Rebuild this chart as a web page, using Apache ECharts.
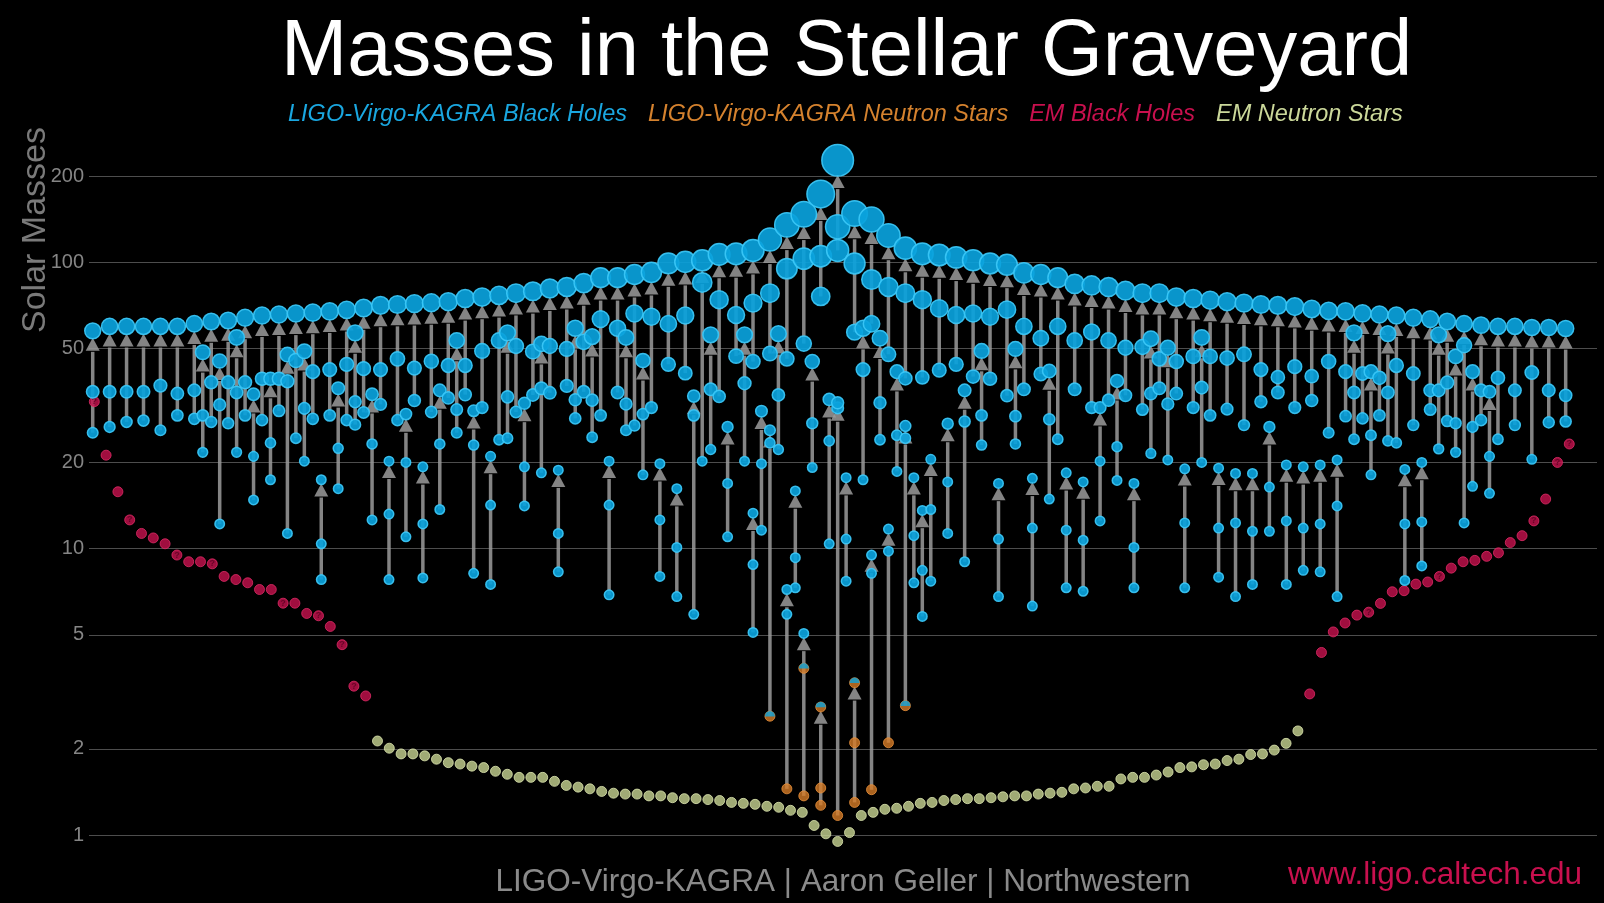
<!DOCTYPE html>
<html>
<head>
<meta charset="utf-8">
<title>Masses in the Stellar Graveyard</title>
<script src="https://cdn.jsdelivr.net/npm/echarts@6/dist/echarts.min.js"></script>
<style>
  html, body { margin: 0; padding: 0; background: #000; }
  #chart { width: 1604px; height: 903px; }
</style>
</head>
<body>
<div id="chart"></div>
<script>
// y ticks of the mass axis
const yTicks = [1, 2, 5, 10, 20, 50, 100, 200];

// LVK binary black holes: [slot, final mass, m1, m2]
const bbhEvents = [
  [0, 57.6, 35.3, 25.4], [1, 59.7, 35.3, 26.6], [2, 59.7, 35.3, 27.7], [3, 59.7, 35.3, 28.0],
  [4, 59.7, 37.1, 25.9], [5, 59.7, 34.8, 29.2], [6, 61.0, 35.7, 28.4], [6.5, 48.5, 29.2, 21.7],
  [7, 62.1, 38.1, 27.7], [7.5, 45.2, 31.8, 12.2], [8, 62.6, 38.1, 27.4], [8.5, 54.6, 35.1, 21.7],
  [9, 64.0, 38.1, 29.2], [9.5, 34.6, 21.0, 14.8], [10, 65.2, 39.2, 28.1], [10.5, 39.2, 23.4, 17.4],
  [11, 65.7, 39.2, 30.3], [11.5, 47.6, 38.4, 11.3], [12, 66.2, 45.4, 24.3], [12.5, 48.9, 30.9, 20.2],
  [13, 66.7, 41.5, 28.4], [13.5, 17.4, 10.4, 7.8], [14, 67.4, 42.2, 29.2], [14.5, 36.3, 22.4, 16.2],
  [15, 68.2, 44.0, 28.1], [15.5, 56.7, 32.6, 27.1], [16, 69.2, 42.5, 29.9], [16.5, 34.6, 23.2, 12.6],
  [17, 70.7, 42.2, 31.9], [17.5, 20.2, 13.2, 7.8], [18, 71.2, 46.0, 28.1], [18.5, 29.5, 20.0, 11.0],
  [19, 71.7, 42.7, 32.9], [19.5, 19.3, 12.2, 7.9], [20, 72.2, 45.1, 30.0], [20.5, 35.7, 23.2, 13.7],
  [21, 72.8, 43.6, 33.6], [21.5, 53.3, 30.6, 25.4], [22, 74.7, 43.6, 34.5], [22.5, 30.3, 23.0, 8.2],
  [23, 75.6, 49.0, 31.1], [23.5, 21.0, 14.2, 7.5], [24, 76.6, 53.3, 24.0], [24.5, 56.7, 33.9, 24.3],
  [25, 78.0, 51.0, 30.0], [25.5, 32.2, 19.3, 14.1], [26, 79.2, 48.8, 34.4], [26.5, 51.9, 36.3, 18.4],
  [27, 81.0, 51.0, 35.0], [27.5, 18.8, 11.3, 8.3], [28, 82.0, 49.8, 37.0], [28.5, 58.8, 33.1, 28.5],
  [29, 84.6, 52.7, 35.3], [29.5, 55.0, 33.0, 24.5], [30, 88.3, 63.3, 29.2], [30.5, 20.2, 14.2, 6.9],
  [31, 88.3, 58.8, 35.1], [31.5, 54.6, 32.0, 25.9], [32, 90.6, 66.2, 26.9], [32.5, 45.4, 29.5, 18.1],
  [33, 92.2, 64.5, 31.1], [33.5, 19.8, 12.6, 8.0], [34, 99.1, 61.0, 44.0], [34.5, 16.2, 10.1, 6.8],
  [35, 100.3, 65.2, 41.0], [35.5, 34.1, 29.2, 5.9], [36, 101.5, 85.0, 20.2], [36.5, 55.8, 36.0, 22.2],
  [37, 106.5, 74.0, 34.0], [37.5, 26.6, 16.9, 11.0], [38, 107.0, 65.4, 47.0], [38.5, 55.8, 37.8, 20.2],
  [39, 110, 72, 45], [39, 13.3, 8.8, 5.1], [39.5, 30.2, 19.8, 11.6], [40, 120, 78, 48],
  [40.5, 56.3, 34.4, 22.2], [41, 135, 95, 46], [41.5, 15.9, 9.3, 7.3], [42, 147, 103, 52],
  [42.5, 45.0, 27.4, 19.2], [43, 173, 105, 76], [43.5, 33.2, 23.8, 10.4], [44, 227, 133, 110],
  [44.5, 17.7, 10.8, 7.7], [45, 148, 99, 57], [45.5, 58.8, 42.2, 17.4], [46, 141, 87, 61],
  [46.5, 54.3, 32.3, 24.0], [47, 124, 82, 47.7], [47.5, 41.5, 24.9, 18.6], [48, 112, 78, 39.3],
  [48.5, 17.7, 11.1, 7.6], [49, 107, 74, 39.6], [49, 13.6, 8.4, 5.8], [49.5, 20.5, 13.7, 7.7],
  [50, 106, 69, 42], [50.5, 27.3, 17.1, 11.3], [51, 104, 65.4, 44], [51.5, 35.7, 27.8, 9.0],
  [52, 101.6, 66.2, 39.9], [52.5, 49.0, 29.2, 23.0], [53, 99.0, 64.5, 39.2], [53.5, 16.9, 10.8, 6.8],
  [54, 98.0, 68.3, 34.2], [54.5, 49.8, 29.0, 23.2], [55, 91.8, 59.7, 36.0], [55.5, 17.6, 11.8, 6.3],
  [56, 90.6, 54.3, 40.7], [56.5, 41.7, 28.3, 14.9], [57, 88.3, 59.7, 24.1], [57.5, 18.4, 11.6, 7.3],
  [58, 84.0, 53.3, 36.0], [58.5, 17.1, 10.7, 7.1], [59, 83.0, 57.1, 31.1], [59.5, 31.1, 20.2, 12.5],
  [60, 81.9, 53.3, 33.0], [60.5, 38.5, 22.7, 17.3], [61, 79.6, 50.3, 34.3], [61.5, 16.9, 10.1, 7.3],
  [62, 78.0, 50.6, 30.6], [62.5, 54.1, 34.8, 21.5], [63, 78.0, 46.0, 36.3], [63.5, 50.3, 32.0, 20.4],
  [64, 75.6, 45.0, 34.8], [64.5, 19.0, 12.3, 7.3], [65, 74.7, 46.9, 31.1], [65.5, 54.6, 36.5, 20.0],
  [66, 73.7, 46.9, 29.2], [66.5, 19.1, 11.8, 7.95], [67, 72.8, 46.3, 30.7], [67.5, 18.3, 12.3, 6.8],
  [68, 72.0, 47.7, 27.0], [68.5, 18.3, 11.5, 7.5], [69, 71.2, 42.2, 32.6], [69.5, 26.6, 16.4, 11.5],
  [70, 70.7, 39.7, 35.1], [70.5, 19.6, 12.5, 7.5], [71, 70.0, 43.2, 31.1], [71.5, 19.3, 11.8, 8.4],
  [72, 68.7, 40.0, 32.9], [72.5, 19.6, 12.2, 8.3], [73, 67.6, 45.0, 25.4], [73.5, 20.4, 14.1, 6.8],
  [74, 67.4, 41.5, 29.0], [74.5, 56.7, 35.1, 24.1], [75, 66.3, 40.9, 28.5], [75.5, 41.5, 24.9, 18.1],
  [76, 65.7, 39.5, 29.2], [76.5, 56.3, 35.1, 23.8], [77, 65.2, 43.6, 23.4], [77.5, 18.9, 12.2, 7.74],
  [78, 64.0, 40.9, 27.0], [78.5, 20.0, 12.4, 8.7], [79, 63.3, 35.7, 30.6], [79.5, 55.8, 35.7, 22.3],
  [80, 62.1, 38.0, 27.9], [80.5, 46.9, 27.4, 21.7], [81, 61.0, 51.3, 12.3], [81.5, 41.5, 26.6, 16.5],
  [82, 60.3, 35.7, 28.1], [82.5, 35.3, 21.0, 15.6], [83, 59.7, 39.5, 24.1], [84, 59.7, 35.7, 27.0],
  [85, 59.2, 41.2, 20.5], [86, 59.2, 35.7, 27.6], [87, 58.7, 34.3, 27.8]
];

// LVK events with a neutron star: [slot, final, m1, m2, kinds] (b = BH, n = NS, m = either)
const nsEvents = [
  [40, 25.9, 23.4, 2.6, 'bbm'],
  [41, 7.2, 5.9, 1.45, 'bbn'],
  [42, 5.06, 3.82, 1.37, 'bmn'],
  [43, 2.8, 1.46, 1.27, 'mnn'],
  [44, 32.3, 31.0, 1.17, 'bbn'],
  [45, 3.4, 2.1, 1.3, 'mnn'],
  [46, 9.5, 8.2, 1.44, 'bbn'],
  [47, 11.7, 9.8, 2.1, 'bbn'],
  [48, 26.8, 24.3, 2.83, 'bbm']
];

// electromagnetic observations, left to right
const emBhLeft = [32.6, 21.2, 15.8, 12.6, 11.3, 10.9, 10.4, 9.5, 9.0, 9.0, 8.85, 8.0, 7.8, 7.6,
  7.2, 7.2, 6.45, 6.45, 5.94, 5.83, 5.35, 4.62, 3.31, 3.06];
const emNs = [2.13, 2.01, 1.92, 1.92, 1.89, 1.84, 1.79, 1.77, 1.74, 1.72,
  1.67, 1.63, 1.59, 1.59, 1.59, 1.54, 1.49, 1.47, 1.45, 1.42,
  1.40, 1.39, 1.39, 1.37, 1.37, 1.35, 1.34, 1.34, 1.33, 1.32,
  1.30, 1.29, 1.28, 1.26, 1.25, 1.22, 1.20, 1.08, 1.01, 0.95,
  1.02, 1.17, 1.20, 1.23, 1.24, 1.26, 1.29, 1.30, 1.32, 1.33,
  1.34, 1.34, 1.35, 1.36, 1.37, 1.37, 1.39, 1.40, 1.41, 1.45,
  1.46, 1.48, 1.48, 1.57, 1.59, 1.59, 1.62, 1.66, 1.72, 1.73,
  1.76, 1.77, 1.82, 1.84, 1.91, 1.92, 1.98, 2.09, 2.31];
const emBhRight = [3.11, 4.34, 5.12, 5.5, 5.86, 6.0, 6.44, 7.07, 7.13, 7.52, 7.65, 8.0, 8.55,
  9.0, 9.1, 9.4, 9.67, 10.5, 11.1, 12.5, 14.9, 20.0, 23.2];
// EM black holes with an uncertain classification (shown with "?")
const emUncertain = [0, 3, 7, 10, 16, 19, 21, 22, 108, 114, 122, 124, 125];

const seriesNames = ['LIGO-Virgo-KAGRA Black Holes', 'LIGO-Virgo-KAGRA Neutron Stars', 'EM Black Holes', 'EM Neutron Stars'];
const colors = {
  bh: '#0aa2dc', bhEdge: '#3cc8f7',
  ns: '#d67c27', nsEdge: '#e8913c',
  emBh: '#c8124f', emBhEdge: '#df2c66',
  emNs: '#c8d592', emNsEdge: '#dde6b0',
  arrow: 'rgba(155,155,155,0.85)'
};

const markerSize = m => Math.max(9.5, 2.1 * Math.sqrt(m));

const chart = echarts.init(document.getElementById('chart'));

const buildOption = () => {
  const bhPoints = [];
  const nsPoints = [];
  const halfPoints = [];
  const arrows = [];

  bbhEvents.forEach(e => {
    arrows.push([e[0], e[1], Math.min(e[2], e[3])]);
    bhPoints.push([e[0], e[2]], [e[0], e[3]], [e[0], e[1]]);
  });
  nsEvents.forEach(e => {
    arrows.push([e[0], e[1], Math.min(e[2], e[3])]);
    [e[2], e[3], e[1]].forEach((m, k) => {
      const kind = e[4][k === 2 ? 0 : k + 1];
      if (kind === 'b') bhPoints.push([e[0], m]);
      else nsPoints.push([e[0], m]);
      if (kind === 'm') halfPoints.push([e[0], m]);
    });
  });

  const emSeq = emBhLeft.concat(emNs, emBhRight);
  const emBhData = [];
  const emNsData = [];
  emSeq.forEach((m, i) => {
    if (i >= emBhLeft.length && i < emBhLeft.length + emNs.length) {
      emNsData.push([i, m]);
    } else if (emUncertain.includes(i)) {
      emBhData.push({ value: [i, m], label: { show: true } });
    } else {
      emBhData.push([i, m]);
    }
  });

  return {
    backgroundColor: '#000',
    animation: false,
    textStyle: { fontFamily: 'Liberation Sans, Arial, sans-serif' },
    title: {
      text: 'Masses in the Stellar Graveyard',
      left: 281,
      top: 13,
      padding: 0,
      textStyle: { color: '#fff', fontSize: 79.5, fontWeight: 'normal', fontFamily: 'Liberation Sans' }
    },
    legend: {
      left: 283,
      top: 103,
      padding: 0,
      icon: 'none',
      itemWidth: 0,
      itemGap: 16,
      selectedMode: false,
      textStyle: { fontSize: 23.5, fontStyle: 'italic', fontFamily: 'Liberation Sans' },
      data: [
        { name: seriesNames[0], textStyle: { color: '#1aa7e0' } },
        { name: seriesNames[1], textStyle: { color: '#d5822e' } },
        { name: seriesNames[2], textStyle: { color: '#c8104e' } },
        { name: seriesNames[3], textStyle: { color: '#cbd89a' } }
      ]
    },
    grid: { left: 89, right: 7, top: 125.6, bottom: 40.2, outerBoundsMode: 'none' },
    xAxis: [
      { type: 'value', min: -0.219, max: 88.85, show: false },
      { type: 'value', min: -0.449, max: 127.35, show: false }
    ],
    yAxis: {
      type: 'log',
      logBase: 10,
      min: 0.8,
      max: 300,
      axisLine: { show: false },
      axisTick: { show: false, customValues: yTicks },
      axisLabel: { customValues: yTicks, color: '#858585', fontSize: 20, margin: 5 },
      splitLine: { show: true, lineStyle: { color: '#4d4d4d', width: 1 } }
    },
    graphic: [
      {
        type: 'text', x: 36, y: 230, rotation: Math.PI / 2,
        style: { text: 'Solar Masses', fill: '#7a7a7a', fontSize: 34, fontFamily: 'Liberation Sans', align: 'center', verticalAlign: 'middle' }
      },
      {
        type: 'text', x: 843, y: 882,
        style: { text: 'LIGO-Virgo-KAGRA | Aaron Geller | Northwestern', fill: '#8a8a8a', fontSize: 31.5, fontFamily: 'Liberation Sans', align: 'center', verticalAlign: 'middle' }
      },
      {
        type: 'text', x: 1435, y: 875,
        style: { text: 'www.ligo.caltech.edu', fill: '#c8104e', fontSize: 31.5, fontFamily: 'Liberation Sans', align: 'center', verticalAlign: 'middle' }
      }
    ],
    series: [
      {
        type: 'custom',
        name: 'arrows',
        xAxisIndex: 0,
        z: 1,
        silent: true,
        encode: { x: 0, y: [1, 2] },
        data: arrows,
        renderItem: (params, api) => {
          const x = api.value(0);
          const top = api.coord([x, api.value(1)]);
          const bot = api.coord([x, api.value(2)]);
          const tip = top[1] + markerSize(api.value(1)) / 2 - 1;
          const base = tip + 13;
          return {
            type: 'group',
            children: [
              { type: 'line', shape: { x1: bot[0], y1: bot[1], x2: top[0], y2: base + 1 }, style: { stroke: colors.arrow, lineWidth: 3.5 } },
              { type: 'polygon', shape: { points: [[top[0], tip], [top[0] - 7, base], [top[0] + 7, base]] }, style: { fill: colors.arrow } }
            ]
          };
        }
      },
      {
        type: 'scatter',
        name: seriesNames[2],
        xAxisIndex: 1,
        z: 2,
        symbolSize: 10,
        itemStyle: { color: colors.emBh, borderColor: colors.emBhEdge, borderWidth: 1 },
        label: { show: false, position: 'inside', formatter: '?', color: '#5a0322', fontSize: 9, fontWeight: 'bold' },
        data: emBhData
      },
      {
        type: 'scatter',
        name: seriesNames[3],
        xAxisIndex: 1,
        z: 2,
        symbolSize: 10,
        itemStyle: { color: colors.emNs, borderColor: colors.emNsEdge, borderWidth: 1 },
        data: emNsData
      },
      {
        type: 'scatter',
        name: seriesNames[0],
        xAxisIndex: 0,
        z: 3,
        symbolSize: v => markerSize(v[1]),
        itemStyle: { color: colors.bh, borderColor: colors.bhEdge, borderWidth: 1.5, opacity: 0.92 },
        data: bhPoints
      },
      {
        type: 'scatter',
        name: seriesNames[1],
        xAxisIndex: 0,
        z: 3,
        symbolSize: 10,
        itemStyle: { color: colors.ns, borderColor: colors.nsEdge, borderWidth: 1 },
        data: nsPoints
      },
      {
        // upper blue half for objects that could be either
        type: 'scatter',
        name: seriesNames[0],
        xAxisIndex: 0,
        z: 4,
        symbol: 'path://M0,10 A10,10 0 0 1 20,10 Z',
        symbolSize: [10, 5.5],
        symbolOffset: [0, -2.5],
        itemStyle: { color: colors.bh },
        data: halfPoints
      }
    ]
  };
};

chart.setOption(buildOption());

window.addEventListener('resize', () => chart.resize());
</script>
</body>
</html>
